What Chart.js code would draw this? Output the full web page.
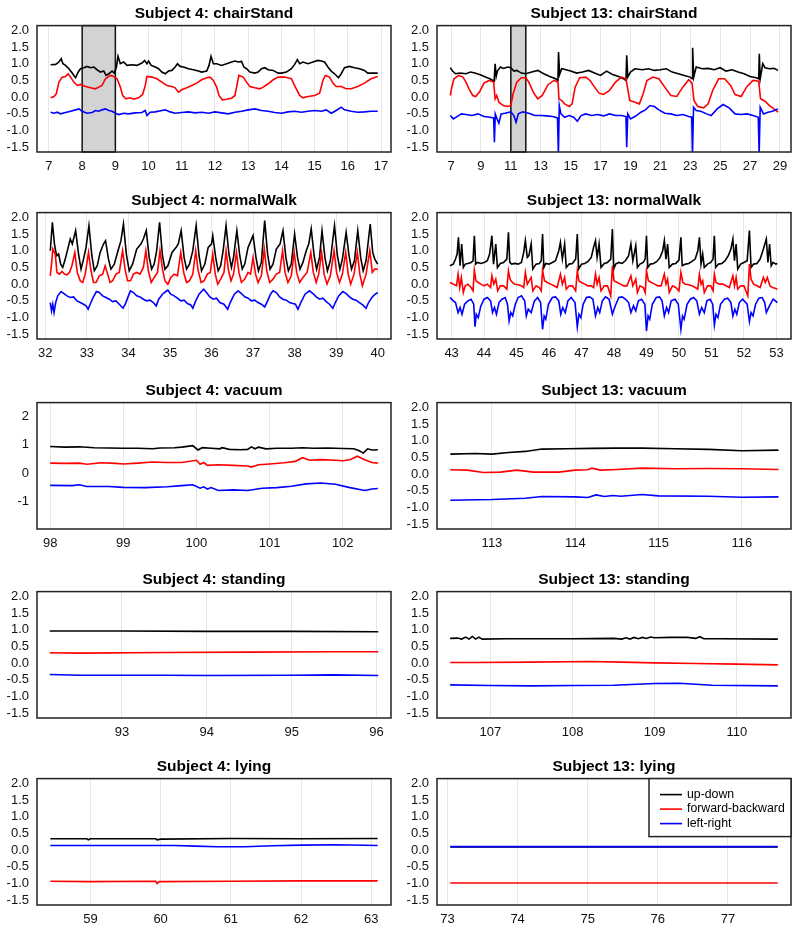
<!DOCTYPE html>
<html>
<head>
<meta charset="utf-8">
<script src="https://cdn.jsdelivr.net/npm/chart.js@4.4.1/dist/chart.umd.min.js"></script>
<style>
    html, body { margin: 0; padding: 0; background: #fff; overflow: hidden; }
    #wrap { position: relative; width: 800px; height: 936px; }
    #wrap canvas { position: absolute; }
</style>
</head>
<body>
<div id="wrap"></div>
<script>
// accelerometer traces, [time (s), acceleration (g)]
const chair4UD = [[7.05,0.97],[7.2,0.98],[7.3,1.05],[7.37,1.15],[7.42,1.0],[7.5,0.95],[7.6,0.85],[7.7,0.72],[7.8,0.58],[7.88,0.75],[7.95,0.85],[8.05,0.88],[8.15,0.92],[8.25,0.88],[8.35,0.9],[8.45,0.82],[8.55,0.75],[8.65,0.78],[8.72,0.65],[8.8,0.7],[8.9,0.78],[8.97,0.72],[9.03,0.9],[9.08,1.22],[9.15,1.0],[9.25,1.05],[9.35,0.95],[9.5,0.97],[9.65,0.95],[9.8,1.02],[9.88,1.1],[9.95,1.0],[10.0,1.08],[10.08,0.95],[10.2,0.9],[10.3,0.85],[10.4,0.75],[10.5,0.7],[10.6,0.78],[10.7,0.8],[10.8,0.9],[10.87,1.0],[10.95,0.92],[11.05,0.9],[11.2,0.85],[11.35,0.82],[11.5,0.78],[11.6,0.75],[11.75,0.78],[11.82,0.95],[11.88,1.22],[11.95,1.0],[12.05,1.0],[12.2,0.95],[12.35,1.0],[12.5,1.05],[12.6,1.08],[12.7,1.05],[12.8,1.07],[12.87,0.9],[12.95,0.85],[13.05,0.75],[13.2,0.72],[13.3,0.75],[13.4,0.85],[13.5,0.88],[13.6,0.82],[13.75,0.8],[13.9,0.72],[14.0,0.72],[14.15,0.75],[14.3,0.85],[14.4,0.98],[14.48,1.12],[14.55,1.0],[14.65,1.05],[14.8,1.0],[14.95,1.05],[15.1,1.1],[15.2,1.08],[15.3,1.05],[15.4,0.9],[15.5,0.78],[15.6,0.7],[15.72,0.58],[15.8,0.7],[15.9,0.88],[16.05,0.92],[16.2,0.88],[16.35,0.85],[16.5,0.8],[16.6,0.72],[16.75,0.72],[16.9,0.72]];
const chair4FB = [[7.05,-0.02],[7.15,0.02],[7.22,0.1],[7.3,0.45],[7.4,0.6],[7.5,0.62],[7.58,0.7],[7.65,0.6],[7.75,0.45],[7.85,0.35],[7.95,0.38],[8.1,0.32],[8.25,0.28],[8.4,0.25],[8.5,0.3],[8.6,0.35],[8.7,0.55],[8.85,0.65],[8.95,0.62],[9.05,0.55],[9.15,0.3],[9.22,0.05],[9.32,-0.05],[9.45,-0.02],[9.55,-0.06],[9.7,-0.02],[9.82,0.08],[9.9,0.35],[9.95,0.62],[10.1,0.6],[10.25,0.55],[10.4,0.45],[10.55,0.35],[10.7,0.32],[10.8,0.28],[10.9,0.15],[11.0,0.22],[11.15,0.28],[11.3,0.35],[11.45,0.42],[11.6,0.52],[11.75,0.58],[11.85,0.6],[11.95,0.5],[12.05,0.3],[12.12,0.05],[12.22,-0.08],[12.35,-0.06],[12.5,-0.03],[12.6,0.05],[12.65,0.3],[12.72,0.65],[12.85,0.6],[12.95,0.45],[13.05,0.32],[13.2,0.28],[13.35,0.25],[13.45,0.3],[13.6,0.4],[13.75,0.52],[13.9,0.6],[14.1,0.6],[14.3,0.55],[14.42,0.3],[14.55,0.05],[14.65,-0.02],[14.8,0.02],[15.0,0.05],[15.15,0.12],[15.25,0.5],[15.32,0.65],[15.45,0.6],[15.55,0.42],[15.65,0.32],[15.8,0.32],[15.95,0.25],[16.1,0.25],[16.3,0.32],[16.5,0.42],[16.7,0.55],[16.9,0.62]];
const chair4LR = [[7.05,-0.45],[7.15,-0.48],[7.25,-0.45],[7.35,-0.5],[7.5,-0.46],[7.65,-0.42],[7.8,-0.38],[7.9,-0.35],[8.0,-0.42],[8.15,-0.48],[8.3,-0.46],[8.4,-0.4],[8.5,-0.42],[8.6,-0.38],[8.7,-0.35],[8.8,-0.4],[8.9,-0.42],[9.0,-0.48],[9.1,-0.52],[9.25,-0.48],[9.4,-0.5],[9.6,-0.47],[9.8,-0.46],[9.9,-0.4],[9.95,-0.55],[10.05,-0.45],[10.2,-0.44],[10.4,-0.4],[10.5,-0.38],[10.65,-0.44],[10.8,-0.48],[11.0,-0.46],[11.2,-0.44],[11.4,-0.47],[11.6,-0.45],[11.8,-0.48],[12.0,-0.44],[12.2,-0.47],[12.4,-0.5],[12.6,-0.45],[12.8,-0.42],[13.0,-0.38],[13.2,-0.35],[13.4,-0.4],[13.6,-0.42],[13.8,-0.46],[14.0,-0.48],[14.2,-0.44],[14.4,-0.42],[14.6,-0.45],[14.8,-0.42],[15.0,-0.4],[15.2,-0.42],[15.35,-0.38],[15.5,-0.48],[15.65,-0.4],[15.8,-0.3],[15.9,-0.38],[16.1,-0.42],[16.3,-0.45],[16.5,-0.44],[16.7,-0.42],[16.9,-0.42]];

const chair13UD = [[6.95,0.88],[7.1,0.78],[7.3,0.7],[7.6,0.72],[8.0,0.7],[8.3,0.75],[8.6,0.72],[9.0,0.66],[9.3,0.6],[9.6,0.55],[9.88,0.48],[9.95,1.0],[10.02,0.62],[10.1,0.78],[10.3,0.9],[10.5,0.86],[10.8,0.9],[11.0,0.88],[11.2,0.78],[11.4,0.8],[11.7,0.72],[12.0,0.7],[12.4,0.75],[12.8,0.8],[13.2,0.7],[13.6,0.62],[14.0,0.55],[14.15,0.5],[14.19,1.35],[14.26,0.68],[14.4,0.85],[14.7,0.82],[15.0,0.78],[15.4,0.72],[15.8,0.75],[16.2,0.8],[16.6,0.72],[17.0,0.65],[17.4,0.78],[17.8,0.68],[18.2,0.62],[18.5,0.56],[18.7,0.5],[18.75,1.25],[18.82,0.6],[19.0,0.75],[19.3,0.85],[19.8,0.82],[20.2,0.85],[20.6,0.8],[21.0,0.82],[21.4,0.85],[21.8,0.75],[22.2,0.7],[22.6,0.65],[23.0,0.6],[23.12,0.55],[23.16,1.48],[23.23,0.6],[23.4,0.9],[23.8,0.85],[24.2,0.86],[24.6,0.82],[25.0,0.88],[25.4,0.78],[25.8,0.82],[26.2,0.75],[26.6,0.7],[27.0,0.62],[27.4,0.58],[27.58,0.55],[27.62,1.3],[27.68,0.55],[27.85,1.0],[28.0,0.88],[28.3,0.85],[28.6,0.86],[28.87,0.8]];
const chair13FB = [[6.95,0.05],[7.05,0.3],[7.2,0.55],[7.5,0.65],[7.8,0.6],[8.0,0.45],[8.2,0.25],[8.45,0.05],[8.65,0.02],[8.9,0.15],[9.2,0.42],[9.55,0.5],[9.85,0.45],[9.95,-0.05],[10.05,0.05],[10.2,-0.15],[10.5,-0.25],[10.8,-0.28],[11.0,-0.25],[11.15,0.1],[11.4,0.45],[11.7,0.58],[12.0,0.58],[12.2,0.45],[12.5,0.15],[12.8,-0.05],[13.1,0.05],[13.5,0.38],[13.9,0.5],[14.15,0.45],[14.22,-0.05],[14.4,-0.1],[14.6,-0.2],[14.9,-0.28],[15.1,-0.2],[15.3,0.3],[15.6,0.58],[16.0,0.6],[16.3,0.5],[16.6,0.3],[16.9,0.12],[17.2,0.08],[17.6,0.2],[18.0,0.45],[18.4,0.6],[18.7,0.55],[18.8,0.3],[18.95,-0.1],[19.3,-0.15],[19.6,-0.2],[19.85,0.1],[20.1,0.5],[20.5,0.6],[20.9,0.55],[21.3,0.3],[21.7,0.05],[22.1,0.02],[22.5,0.3],[22.9,0.52],[23.12,0.42],[23.25,-0.1],[23.5,-0.28],[23.9,-0.32],[24.2,-0.2],[24.5,0.2],[24.9,0.55],[25.3,0.55],[25.7,0.35],[26.0,0.08],[26.4,0.02],[26.8,0.32],[27.2,0.5],[27.58,0.48],[27.7,-0.05],[28.0,-0.12],[28.3,-0.25],[28.6,-0.35],[28.87,-0.45]];
const chair13LR = [[6.95,-0.55],[7.15,-0.65],[7.4,-0.58],[7.7,-0.5],[8.0,-0.52],[8.4,-0.55],[8.8,-0.5],[9.2,-0.58],[9.6,-0.6],[9.85,-0.62],[9.9,-1.35],[9.96,-0.5],[10.05,-0.62],[10.2,-0.78],[10.35,-0.5],[10.6,-0.48],[11.0,-0.44],[11.2,-0.55],[11.35,-0.75],[11.5,-0.5],[11.8,-0.44],[12.2,-0.48],[12.6,-0.55],[13.0,-0.55],[13.4,-0.56],[13.8,-0.58],[14.12,-0.62],[14.18,-1.7],[14.24,-0.25],[14.35,-0.5],[14.6,-0.6],[14.9,-0.55],[15.2,-0.6],[15.45,-0.72],[15.7,-0.55],[16.0,-0.5],[16.4,-0.55],[16.8,-0.52],[17.2,-0.56],[17.6,-0.5],[18.0,-0.55],[18.4,-0.55],[18.7,-0.58],[18.75,-1.5],[18.82,-0.5],[19.0,-0.65],[19.3,-0.58],[19.7,-0.45],[20.0,-0.38],[20.3,-0.25],[20.6,-0.28],[20.9,-0.38],[21.3,-0.48],[21.7,-0.5],[22.1,-0.55],[22.5,-0.52],[22.9,-0.58],[23.1,-0.6],[23.15,-1.7],[23.22,-0.3],[23.4,-0.4],[23.7,-0.42],[24.1,-0.5],[24.4,-0.55],[24.8,-0.35],[25.2,-0.22],[25.6,-0.32],[26.0,-0.5],[26.4,-0.52],[26.8,-0.5],[27.2,-0.55],[27.55,-0.6],[27.61,-1.7],[27.68,-0.3],[27.9,-0.5],[28.2,-0.45],[28.5,-0.42],[28.87,-0.35]];

const walk4UD = [[32.12,1.0],[32.17,1.85],[32.22,1.2],[32.27,0.85],[32.32,0.9],[32.37,0.6],[32.42,0.5],[32.48,0.75],[32.55,1.1],[32.6,1.35],[32.65,1.2],[32.73,1.6],[32.8,0.9],[32.86,0.45],[32.92,0.75],[32.98,1.1],[33.05,1.75],[33.12,0.85],[33.18,0.4],[33.25,0.55],[33.32,0.95],[33.4,1.2],[33.45,1.3],[33.52,0.75],[33.58,0.45],[33.66,0.6],[33.75,1.0],[33.82,1.3],[33.88,1.8],[33.95,0.9],[34.02,0.4],[34.1,0.6],[34.2,1.05],[34.3,1.2],[34.36,1.35],[34.43,1.6],[34.5,0.8],[34.56,0.45],[34.62,0.6],[34.68,1.0],[34.75,1.85],[34.82,0.85],[34.88,0.45],[34.95,0.55],[35.05,0.95],[35.15,1.1],[35.2,1.2],[35.27,1.6],[35.34,0.8],[35.4,0.45],[35.47,0.6],[35.55,1.0],[35.63,1.75],[35.7,0.85],[35.76,0.4],[35.84,0.6],[35.92,1.1],[36.0,1.2],[36.03,1.45],[36.1,0.8],[36.16,0.4],[36.22,0.55],[36.28,1.0],[36.35,1.75],[36.42,0.9],[36.48,0.5],[36.53,0.8],[36.61,1.6],[36.68,0.85],[36.74,0.45],[36.8,0.6],[36.88,1.1],[36.95,1.3],[37.0,1.45],[37.07,0.8],[37.13,0.4],[37.2,0.65],[37.28,1.9],[37.35,0.9],[37.41,0.45],[37.48,0.6],[37.56,1.05],[37.65,1.2],[37.72,1.6],[37.79,0.8],[37.85,0.4],[37.92,0.6],[38.0,1.5],[38.07,0.8],[38.13,0.45],[38.2,0.65],[38.28,1.0],[38.34,1.2],[38.4,1.65],[38.47,0.85],[38.53,0.45],[38.6,0.8],[38.66,1.6],[38.73,0.8],[38.79,0.4],[38.86,0.7],[38.96,1.75],[39.03,0.85],[39.09,0.45],[39.15,0.75],[39.24,1.55],[39.31,0.85],[39.37,0.45],[39.44,0.7],[39.52,1.6],[39.59,0.8],[39.65,0.4],[39.72,0.7],[39.82,1.8],[39.88,0.95],[39.93,0.75],[40.0,0.6]];
const walk4FB = [[32.12,0.25],[32.15,0.6],[32.18,1.05],[32.24,0.9],[32.28,0.35],[32.34,0.3],[32.4,0.38],[32.46,0.3],[32.52,0.28],[32.58,0.35],[32.64,0.55],[32.71,0.95],[32.77,0.35],[32.84,0.1],[32.9,0.05],[32.96,0.3],[33.04,0.95],[33.1,0.4],[33.16,0.05],[33.22,0.05],[33.3,0.25],[33.38,0.3],[33.44,0.55],[33.5,0.3],[33.56,0.05],[33.62,0.1],[33.7,0.3],[33.78,0.35],[33.86,1.0],[33.92,0.45],[33.98,0.1],[34.05,0.1],[34.12,0.3],[34.2,0.35],[34.28,0.3],[34.36,0.5],[34.42,1.0],[34.48,0.4],[34.55,0.05],[34.62,0.2],[34.7,0.35],[34.76,1.0],[34.82,0.45],[34.88,0.1],[34.95,0.0],[35.02,0.2],[35.1,0.3],[35.18,0.25],[35.26,0.95],[35.33,0.35],[35.4,0.05],[35.47,0.1],[35.55,0.3],[35.62,1.0],[35.68,0.4],[35.75,0.05],[35.82,0.1],[35.9,0.3],[35.97,0.35],[36.03,0.9],[36.09,0.3],[36.15,0.0],[36.22,0.15],[36.3,0.35],[36.35,1.0],[36.41,0.4],[36.47,0.1],[36.53,0.3],[36.6,0.95],[36.66,0.35],[36.72,0.05],[36.8,0.15],[36.88,0.35],[36.94,0.3],[37.0,0.8],[37.06,0.3],[37.12,0.05],[37.2,0.25],[37.27,1.05],[37.33,0.4],[37.4,0.05],[37.48,0.15],[37.56,0.3],[37.64,0.35],[37.71,1.0],[37.77,0.35],[37.84,0.05],[37.92,0.25],[37.99,0.95],[38.05,0.35],[38.12,0.05],[38.2,0.2],[38.3,0.35],[38.39,0.95],[38.45,0.35],[38.52,0.05],[38.58,0.3],[38.65,0.95],[38.71,0.3],[38.78,0.0],[38.86,0.25],[38.95,1.0],[39.01,0.35],[39.08,0.05],[39.15,0.3],[39.23,0.95],[39.29,0.3],[39.35,0.0],[39.43,0.3],[39.51,0.95],[39.57,0.3],[39.63,-0.05],[39.72,0.3],[39.81,1.0],[39.87,0.35],[39.93,0.45],[40.0,0.45]];
const walk4LR = [[32.12,-0.55],[32.15,-0.8],[32.18,-0.6],[32.21,-0.85],[32.25,-0.55],[32.3,-0.35],[32.38,-0.22],[32.45,-0.28],[32.52,-0.35],[32.6,-0.4],[32.68,-0.38],[32.76,-0.5],[32.84,-0.55],[32.92,-0.6],[32.98,-0.65],[33.03,-0.75],[33.08,-0.6],[33.15,-0.4],[33.23,-0.22],[33.3,-0.25],[33.38,-0.35],[33.46,-0.4],[33.54,-0.45],[33.62,-0.52],[33.7,-0.5],[33.78,-0.6],[33.87,-0.72],[33.93,-0.58],[34.0,-0.35],[34.05,-0.2],[34.12,-0.25],[34.2,-0.35],[34.28,-0.38],[34.36,-0.45],[34.44,-0.5],[34.52,-0.48],[34.6,-0.55],[34.67,-0.65],[34.73,-0.45],[34.82,-0.3],[34.9,-0.22],[34.95,-0.18],[35.02,-0.3],[35.1,-0.35],[35.18,-0.42],[35.26,-0.5],[35.34,-0.48],[35.42,-0.58],[35.5,-0.62],[35.55,-0.72],[35.62,-0.5],[35.7,-0.3],[35.81,-0.15],[35.88,-0.25],[35.96,-0.38],[36.04,-0.45],[36.12,-0.42],[36.2,-0.55],[36.3,-0.6],[36.39,-0.75],[36.45,-0.55],[36.55,-0.3],[36.64,-0.2],[36.72,-0.28],[36.8,-0.38],[36.88,-0.42],[36.96,-0.5],[37.04,-0.48],[37.12,-0.55],[37.2,-0.6],[37.28,-0.68],[37.35,-0.5],[37.42,-0.3],[37.48,-0.2],[37.56,-0.25],[37.64,-0.38],[37.72,-0.45],[37.8,-0.48],[37.88,-0.55],[37.96,-0.58],[38.02,-0.6],[38.08,-0.75],[38.15,-0.55],[38.25,-0.3],[38.36,-0.2],[38.44,-0.28],[38.52,-0.38],[38.6,-0.45],[38.68,-0.42],[38.76,-0.52],[38.84,-0.6],[38.92,-0.72],[38.98,-0.55],[39.06,-0.35],[39.16,-0.22],[39.24,-0.28],[39.32,-0.38],[39.4,-0.45],[39.48,-0.48],[39.56,-0.55],[39.64,-0.62],[39.72,-0.72],[39.78,-0.55],[39.86,-0.4],[39.92,-0.32],[40.0,-0.25]];

const walk13UD = [[42.95,0.55],[43.05,0.6],[43.12,0.75],[43.17,0.9],[43.21,1.4],[43.26,0.55],[43.31,1.2],[43.36,0.5],[43.42,0.6],[43.5,0.62],[43.6,0.65],[43.66,0.7],[43.7,1.45],[43.74,0.6],[43.8,0.65],[43.9,0.62],[44.0,0.65],[44.1,0.7],[44.17,0.9],[44.24,1.45],[44.29,0.6],[44.36,1.2],[44.41,0.5],[44.5,0.62],[44.6,0.65],[44.7,0.75],[44.75,1.55],[44.79,0.65],[44.85,0.6],[44.95,0.62],[45.05,0.6],[45.15,0.65],[45.22,0.95],[45.27,1.3],[45.33,0.8],[45.38,0.85],[45.45,1.2],[45.5,0.45],[45.6,0.6],[45.7,0.62],[45.76,0.7],[45.8,1.5],[45.84,0.5],[45.9,0.62],[46.0,0.6],[46.1,0.65],[46.2,0.7],[46.3,1.0],[46.35,1.25],[46.41,0.75],[46.48,1.2],[46.53,0.5],[46.62,0.6],[46.72,0.62],[46.82,0.75],[46.87,1.5],[46.91,0.45],[47.0,0.6],[47.1,0.62],[47.2,0.68],[47.3,0.8],[47.37,1.1],[47.43,1.3],[47.48,0.8],[47.54,1.2],[47.6,0.5],[47.7,0.62],[47.8,0.65],[47.9,0.75],[47.95,1.65],[47.99,0.45],[48.05,0.6],[48.15,0.65],[48.25,0.62],[48.35,0.7],[48.45,0.85],[48.52,1.2],[48.58,0.7],[48.67,1.15],[48.72,0.5],[48.8,0.6],[48.9,0.65],[48.96,0.75],[49.0,1.45],[49.04,0.5],[49.12,0.6],[49.22,0.62],[49.32,0.68],[49.42,0.8],[49.5,1.0],[49.55,1.3],[49.6,0.75],[49.65,1.2],[49.7,0.5],[49.8,0.6],[49.9,0.62],[50.0,0.72],[50.06,1.4],[50.1,0.55],[50.2,0.6],[50.3,0.62],[50.4,0.68],[50.5,0.75],[50.58,1.0],[50.63,1.4],[50.68,0.6],[50.73,0.9],[50.78,0.5],[50.88,0.6],[50.98,0.65],[51.05,0.75],[51.09,1.45],[51.13,0.5],[51.22,0.6],[51.32,0.62],[51.42,0.7],[51.52,0.85],[51.6,1.05],[51.66,1.35],[51.71,0.7],[51.76,1.2],[51.81,0.45],[51.9,0.6],[52.0,0.65],[52.1,0.7],[52.17,1.6],[52.22,0.5],[52.3,0.6],[52.4,0.62],[52.5,0.75],[52.6,1.05],[52.69,1.35],[52.74,0.65],[52.79,1.2],[52.84,0.55],[52.9,0.65],[52.98,0.6],[53.03,0.62]];
const walk13FB = [[42.95,0.05],[43.05,0.0],[43.15,-0.05],[43.2,0.3],[43.25,-0.1],[43.3,0.2],[43.36,-0.25],[43.42,-0.05],[43.5,0.0],[43.6,-0.1],[43.66,-0.2],[43.7,0.42],[43.75,0.1],[43.82,0.05],[43.9,0.0],[44.0,-0.05],[44.1,0.0],[44.2,-0.1],[44.24,0.25],[44.3,0.0],[44.36,0.15],[44.42,-0.2],[44.5,-0.05],[44.6,-0.05],[44.7,-0.15],[44.75,0.4],[44.8,0.15],[44.87,0.05],[44.95,0.0],[45.05,-0.02],[45.15,-0.05],[45.22,-0.1],[45.27,0.35],[45.33,0.0],[45.45,0.2],[45.5,-0.2],[45.6,-0.05],[45.7,-0.1],[45.76,-0.2],[45.8,0.42],[45.86,0.1],[45.95,0.05],[46.05,0.0],[46.15,-0.05],[46.25,-0.1],[46.35,0.3],[46.41,0.0],[46.48,0.2],[46.53,-0.15],[46.62,-0.05],[46.72,-0.05],[46.82,-0.2],[46.87,0.4],[46.92,0.1],[47.0,0.05],[47.1,0.0],[47.2,-0.05],[47.3,-0.05],[47.37,-0.1],[47.43,0.3],[47.48,0.0],[47.54,0.2],[47.6,-0.2],[47.7,-0.05],[47.8,-0.05],[47.9,-0.35],[47.95,0.55],[48.0,0.1],[48.1,0.05],[48.2,0.0],[48.3,-0.05],[48.4,-0.05],[48.52,0.25],[48.58,-0.05],[48.67,0.15],[48.72,-0.25],[48.8,-0.05],[48.9,-0.1],[48.96,-0.25],[49.0,0.4],[49.06,0.1],[49.15,0.05],[49.25,0.0],[49.35,-0.05],[49.45,-0.05],[49.55,0.3],[49.6,0.0],[49.65,0.15],[49.7,-0.25],[49.8,-0.05],[49.9,-0.1],[50.0,-0.2],[50.06,0.35],[50.12,0.05],[50.2,0.0],[50.3,-0.02],[50.4,-0.05],[50.5,-0.1],[50.58,-0.15],[50.63,0.3],[50.68,0.0],[50.73,0.1],[50.78,-0.25],[50.88,-0.05],[50.98,-0.05],[51.05,-0.2],[51.09,0.3],[51.14,0.05],[51.25,0.0],[51.35,0.0],[51.45,-0.05],[51.55,-0.1],[51.66,0.25],[51.71,-0.05],[51.76,0.2],[51.81,-0.15],[51.9,-0.05],[52.0,-0.05],[52.12,-0.35],[52.17,0.6],[52.22,0.15],[52.3,0.0],[52.4,-0.05],[52.5,-0.1],[52.6,0.2],[52.66,0.05],[52.72,0.2],[52.8,-0.05],[52.88,-0.1],[52.96,-0.12],[53.03,-0.15]];
const walk13LR = [[42.95,-0.4],[43.05,-0.5],[43.12,-0.55],[43.2,-0.85],[43.26,-0.7],[43.32,-0.9],[43.4,-0.6],[43.5,-0.5],[43.6,-0.45],[43.68,-0.6],[43.72,-1.27],[43.76,-0.9],[43.82,-1.0],[43.9,-0.65],[44.0,-0.45],[44.1,-0.4],[44.2,-0.5],[44.26,-0.85],[44.32,-0.7],[44.38,-0.9],[44.46,-0.55],[44.55,-0.45],[44.65,-0.4],[44.72,-0.6],[44.77,-1.1],[44.82,-0.85],[44.88,-0.95],[44.96,-0.6],[45.05,-0.4],[45.15,-0.35],[45.25,-0.5],[45.3,-0.95],[45.36,-0.75],[45.45,-0.85],[45.55,-0.5],[45.65,-0.4],[45.74,-0.55],[45.8,-1.35],[45.85,-0.95],[45.9,-1.05],[45.98,-0.6],[46.1,-0.4],[46.2,-0.38],[46.3,-0.5],[46.36,-0.9],[46.42,-0.7],[46.5,-0.85],[46.58,-0.5],[46.68,-0.4],[46.8,-0.55],[46.87,-1.28],[46.92,-0.9],[46.98,-1.0],[47.05,-0.6],[47.15,-0.4],[47.25,-0.38],[47.35,-0.45],[47.43,-0.95],[47.5,-0.7],[47.56,-0.85],[47.64,-0.5],[47.74,-0.38],[47.85,-0.45],[47.95,-0.9],[48.0,-0.75],[48.06,-0.6],[48.15,-0.4],[48.25,-0.38],[48.35,-0.45],[48.45,-0.55],[48.52,-0.85],[48.6,-0.65],[48.67,-0.8],[48.75,-0.5],[48.85,-0.45],[48.95,-0.6],[49.0,-1.4],[49.05,-0.95],[49.1,-1.05],[49.18,-0.6],[49.3,-0.4],[49.4,-0.38],[49.48,-0.5],[49.55,-0.95],[49.62,-0.7],[49.68,-0.85],[49.76,-0.5],[49.88,-0.45],[49.98,-0.6],[50.06,-1.35],[50.11,-0.95],[50.16,-1.05],[50.25,-0.6],[50.35,-0.45],[50.45,-0.4],[50.55,-0.5],[50.63,-0.9],[50.7,-0.7],[50.78,-0.85],[50.86,-0.5],[50.96,-0.45],[51.04,-0.6],[51.09,-1.22],[51.14,-0.9],[51.2,-1.0],[51.28,-0.6],[51.4,-0.45],[51.5,-0.42],[51.6,-0.55],[51.66,-0.95],[51.72,-0.75],[51.78,-0.9],[51.86,-0.55],[51.96,-0.45],[52.1,-0.6],[52.17,-1.12],[52.22,-0.85],[52.28,-0.95],[52.36,-0.6],[52.46,-0.42],[52.56,-0.4],[52.64,-0.55],[52.69,-0.85],[52.76,-0.7],[52.84,-0.55],[52.9,-0.45],[52.97,-0.5],[53.03,-0.55]];

const vac4UD = [[98.0,0.94],[98.2,0.92],[98.4,0.93],[98.6,0.9],[98.8,0.89],[99.0,0.88],[99.2,0.88],[99.4,0.86],[99.5,0.89],[99.7,0.9],[99.8,0.92],[99.95,0.97],[100.02,0.82],[100.08,0.9],[100.2,0.88],[100.32,0.86],[100.35,0.9],[100.45,0.84],[100.6,0.83],[100.7,0.84],[100.75,0.93],[100.8,0.86],[100.85,0.92],[100.95,0.86],[101.1,0.88],[101.3,0.88],[101.45,0.9],[101.6,0.88],[101.8,0.89],[102.0,0.87],[102.15,0.86],[102.22,0.8],[102.28,0.71],[102.34,0.86],[102.4,0.82],[102.48,0.83]];
const vac4FB = [[98.0,0.36],[98.2,0.35],[98.4,0.36],[98.5,0.32],[98.7,0.37],[98.9,0.35],[99.0,0.33],[99.2,0.36],[99.4,0.4],[99.6,0.38],[99.8,0.38],[100.0,0.46],[100.05,0.32],[100.1,0.38],[100.15,0.28],[100.3,0.3],[100.5,0.28],[100.7,0.26],[100.75,0.22],[100.85,0.3],[101.0,0.33],[101.2,0.37],[101.35,0.42],[101.45,0.55],[101.55,0.46],[101.7,0.48],[101.9,0.46],[102.0,0.44],[102.1,0.48],[102.2,0.6],[102.3,0.48],[102.4,0.38],[102.48,0.36]];
const vac4LR = [[98.0,-0.42],[98.3,-0.43],[98.4,-0.4],[98.5,-0.46],[98.8,-0.46],[99.0,-0.49],[99.3,-0.5],[99.6,-0.47],[99.8,-0.43],[99.95,-0.4],[100.05,-0.52],[100.1,-0.47],[100.15,-0.55],[100.2,-0.5],[100.3,-0.6],[100.5,-0.58],[100.7,-0.6],[100.9,-0.52],[101.1,-0.5],[101.3,-0.45],[101.5,-0.37],[101.7,-0.34],[101.9,-0.38],[102.1,-0.5],[102.3,-0.6],[102.4,-0.55],[102.48,-0.53]];

const vac13UD = [[112.5,0.6],[112.8,0.62],[113.0,0.6],[113.2,0.65],[113.4,0.68],[113.6,0.75],[113.9,0.76],[114.2,0.77],[114.5,0.78],[114.8,0.78],[115.2,0.76],[115.6,0.74],[116.0,0.7],[116.44,0.72]];
const vac13FB = [[112.5,0.13],[112.7,0.12],[112.9,0.05],[113.1,0.06],[113.3,0.12],[113.5,0.06],[113.8,0.06],[114.0,0.12],[114.15,0.13],[114.2,0.18],[114.3,0.12],[114.5,0.14],[114.8,0.18],[115.2,0.16],[115.6,0.17],[116.0,0.16],[116.44,0.14]];
const vac13LR = [[112.5,-0.78],[113.0,-0.76],[113.4,-0.72],[113.6,-0.67],[114.0,-0.68],[114.15,-0.7],[114.25,-0.62],[114.35,-0.67],[114.45,-0.64],[114.55,-0.66],[114.8,-0.61],[115.0,-0.65],[115.6,-0.66],[116.0,-0.69],[116.44,-0.68]];

const stand4UD = [[92.15,0.96],[93.0,0.96],[94.0,0.95],[95.0,0.95],[96.02,0.94]];
const stand4FB = [[92.15,0.31],[92.5,0.3],[93.5,0.32],[94.5,0.33],[95.5,0.34],[96.02,0.34]];
const stand4LR = [[92.15,-0.34],[92.5,-0.36],[93.5,-0.36],[94.0,-0.37],[95.0,-0.36],[95.5,-0.35],[96.02,-0.37]];

const stand13UD = [[106.51,0.74],[106.6,0.75],[106.65,0.72],[106.7,0.78],[106.74,0.72],[106.78,0.8],[106.82,0.72],[106.86,0.78],[106.9,0.72],[107.2,0.73],[108.0,0.73],[108.5,0.74],[108.6,0.72],[108.65,0.76],[108.7,0.72],[108.75,0.77],[108.8,0.73],[108.85,0.77],[108.9,0.74],[108.95,0.78],[109.0,0.76],[109.2,0.77],[109.4,0.77],[109.5,0.74],[109.55,0.79],[109.6,0.73],[109.8,0.73],[110.5,0.72]];
const stand13FB = [[106.51,0.02],[106.8,0.02],[107.5,0.03],[108.2,0.05],[108.6,0.03],[109.0,0.01],[109.5,-0.01],[110.0,-0.03],[110.5,-0.05]];
const stand13LR = [[106.51,-0.65],[107.0,-0.67],[107.5,-0.68],[108.0,-0.67],[108.5,-0.66],[109.0,-0.61],[109.3,-0.6],[109.5,-0.63],[109.7,-0.66],[110.5,-0.68]];

const lying4UD = [[58.43,0.34],[58.95,0.34],[58.97,0.31],[59.0,0.34],[59.93,0.34],[59.95,0.31],[60.0,0.33],[61.0,0.35],[62.0,0.34],[63.09,0.35]];
const lying4FB = [[58.43,-0.93],[59.0,-0.94],[59.93,-0.93],[59.95,-1.0],[59.98,-0.94],[61.0,-0.93],[62.0,-0.92],[63.09,-0.92]];
const lying4LR = [[58.43,0.14],[59.5,0.14],[60.2,0.14],[60.5,0.12],[60.8,0.1],[61.2,0.1],[61.6,0.13],[62.0,0.15],[62.5,0.16],[63.09,0.14]];

const lying13UD = [[73.04,0.095],[77.71,0.095]];
const lying13FB = [[73.04,-0.98],[77.71,-0.98]];
const lying13LR = [[73.04,0.105],[77.71,0.105]];

const seriesNames = ["up-down", "forward-backward", "left-right"];
const seriesColors = ["#000000", "#ff0000", "#0000ff"];

const yTicksStd = [-1.5, -1.0, -0.5, 0.0, 0.5, 1.0, 1.5, 2.0];
const yTicksVac4 = [-1, 0, 1, 2];

const panels = [
    { title: "Subject 4: chairStand", series: [chair4UD, chair4FB, chair4LR], xMin: 6.64, xMax: 17.3, xTicks: [7, 8, 9, 10, 11, 12, 13, 14, 15, 16, 17], shade: [8, 9] },
    { title: "Subject 13: chairStand", series: [chair13UD, chair13FB, chair13LR], xMin: 6.06, xMax: 29.74, xTicks: [7, 9, 11, 13, 15, 17, 19, 21, 23, 25, 27, 29], shade: [11, 12] },
    { title: "Subject 4: normalWalk", series: [walk4UD, walk4FB, walk4LR], xMin: 31.8, xMax: 40.32, xTicks: [32, 33, 34, 35, 36, 37, 38, 39, 40] },
    { title: "Subject 13: normalWalk", series: [walk13UD, walk13FB, walk13LR], xMin: 42.55, xMax: 53.45, xTicks: [43, 44, 45, 46, 47, 48, 49, 50, 51, 52, 53] },
    { title: "Subject 4: vacuum", series: [vac4UD, vac4FB, vac4LR], xMin: 97.82, xMax: 102.66, xTicks: [98, 99, 100, 101, 102], yTicks: yTicksVac4, yMin: -1.95, yMax: 2.48, yDigits: 0 },
    { title: "Subject 13: vacuum", series: [vac13UD, vac13FB, vac13LR], xMin: 112.34, xMax: 116.59, xTicks: [113, 114, 115, 116] },
    { title: "Subject 4: standing", series: [stand4UD, stand4FB, stand4LR], xMin: 92.0, xMax: 96.17, xTicks: [93, 94, 95, 96] },
    { title: "Subject 13: standing", series: [stand13UD, stand13FB, stand13LR], xMin: 106.35, xMax: 110.66, xTicks: [107, 108, 109, 110] },
    { title: "Subject 4: lying", series: [lying4UD, lying4FB, lying4LR], xMin: 58.24, xMax: 63.28, xTicks: [59, 60, 61, 62, 63] },
    { title: "Subject 13: lying", series: [lying13UD, lying13FB, lying13LR], xMin: 72.85, xMax: 77.9, xTicks: [73, 74, 75, 76, 77], legend: true }
];

const rowTops = [0, 187, 377, 566, 753];
const fontFamily = "'Liberation Sans', Arial, Helvetica, sans-serif";

// grey highlighted window behind the traces
const shadePlugin = {
    id: "shade",
    beforeDatasetsDraw(chart, args, opts) {
        if (!opts.range) return;
        const { ctx, chartArea: a, scales: { x } } = chart;
        const x0 = x.getPixelForValue(opts.range[0]);
        const x1 = x.getPixelForValue(opts.range[1]);
        ctx.save();
        ctx.fillStyle = "#d3d3d3";
        ctx.fillRect(x0, a.top, x1 - x0, a.bottom - a.top);
        ctx.strokeStyle = "#111";
        ctx.lineWidth = 1.5;
        ctx.strokeRect(x0, a.top, x1 - x0, a.bottom - a.top);
        ctx.restore();
    }
};

// box round the plot region
const framePlugin = {
    id: "frame",
    afterDatasetsDraw(chart) {
        const { ctx, chartArea: a } = chart;
        ctx.save();
        ctx.strokeStyle = "#222";
        ctx.lineWidth = 1.5;
        ctx.strokeRect(a.left, a.top, a.right - a.left, a.bottom - a.top);
        ctx.restore();
    }
};

// legend box in the top right corner of the plot
const keyPlugin = {
    id: "keyBox",
    afterDraw(chart, args, opts) {
        if (!opts.show) return;
        const { ctx, chartArea: a } = chart;
        const w = 142, h = 58;
        const left = a.right - w, top = a.top;
        ctx.save();
        ctx.fillStyle = "#fff";
        ctx.fillRect(left, top, w, h);
        ctx.strokeStyle = "#222";
        ctx.lineWidth = 1.5;
        ctx.strokeRect(left, top, w, h);
        ctx.font = "12.3px " + fontFamily;
        ctx.textBaseline = "middle";
        chart.data.datasets.forEach((d, k) => {
            const y = top + 16 + k * 14.5;
            ctx.strokeStyle = d.borderColor;
            ctx.lineWidth = 1.6;
            ctx.beginPath();
            ctx.moveTo(left + 11, y);
            ctx.lineTo(left + 33, y);
            ctx.stroke();
            ctx.fillStyle = "#000";
            ctx.fillText(d.label, left + 38, y);
        });
        ctx.restore();
    }
};

const wrap = document.getElementById("wrap");

panels.forEach((p, i) => {
    const col = i % 2, row = Math.floor(i / 2);
    const cv = document.createElement("canvas");
    cv.width = 428;
    cv.height = 183;
    cv.style.left = (col * 400) + "px";
    cv.style.top = rowTops[row] + "px";
    wrap.appendChild(cv);

    const yTicks = p.yTicks || yTicksStd;
    const yDigits = p.yDigits === undefined ? 1 : p.yDigits;

    new Chart(cv, {
        type: "line",
        data: {
            datasets: p.series.map((s, k) => ({
                label: seriesNames[k],
                data: s.map(([x, y]) => ({ x, y })),
                borderColor: seriesColors[k],
                borderWidth: 1.6,
                pointRadius: 0,
                tension: 0,
                fill: false,
                order: 3 - k
            }))
        },
        options: {
            responsive: false,
            animation: false,
            events: [],
            layout: { padding: { left: 0, right: 37, top: 0, bottom: 0 } },
            plugins: {
                legend: { display: false },
                tooltip: { enabled: false },
                title: {
                    display: true,
                    text: p.title,
                    fullSize: false,
                    color: "#000",
                    font: { family: fontFamily, size: 15.5, weight: "bold" },
                    padding: { top: 4, bottom: 3 }
                },
                shade: { range: p.shade },
                keyBox: { show: !!p.legend }
            },
            scales: {
                x: {
                    type: "linear",
                    min: p.xMin,
                    max: p.xMax,
                    afterBuildTicks: s => { s.ticks = p.xTicks.map(v => ({ value: v })); },
                    afterFit: s => { s.height = 31; },
                    grid: { color: "#e6e6e6", lineWidth: 1, drawTicks: false },
                    border: { display: false },
                    ticks: {
                        autoSkip: false,
                        maxRotation: 0,
                        padding: 7,
                        color: "#111",
                        font: { family: fontFamily, size: 13 },
                        callback: v => String(v)
                    }
                },
                y: {
                    type: "linear",
                    min: p.yMin === undefined ? -1.64 : p.yMin,
                    max: p.yMax === undefined ? 2.14 : p.yMax,
                    afterBuildTicks: s => { s.ticks = yTicks.map(v => ({ value: v })); },
                    afterFit: s => { s.width = 37; },
                    grid: { display: false, drawTicks: false },
                    border: { display: false },
                    ticks: {
                        autoSkip: false,
                        padding: 8,
                        color: "#111",
                        font: { family: fontFamily, size: 13 },
                        callback: v => Number(v).toFixed(yDigits)
                    }
                }
            }
        },
        plugins: [shadePlugin, framePlugin, keyPlugin]
    });
});
</script>
</body>
</html>
